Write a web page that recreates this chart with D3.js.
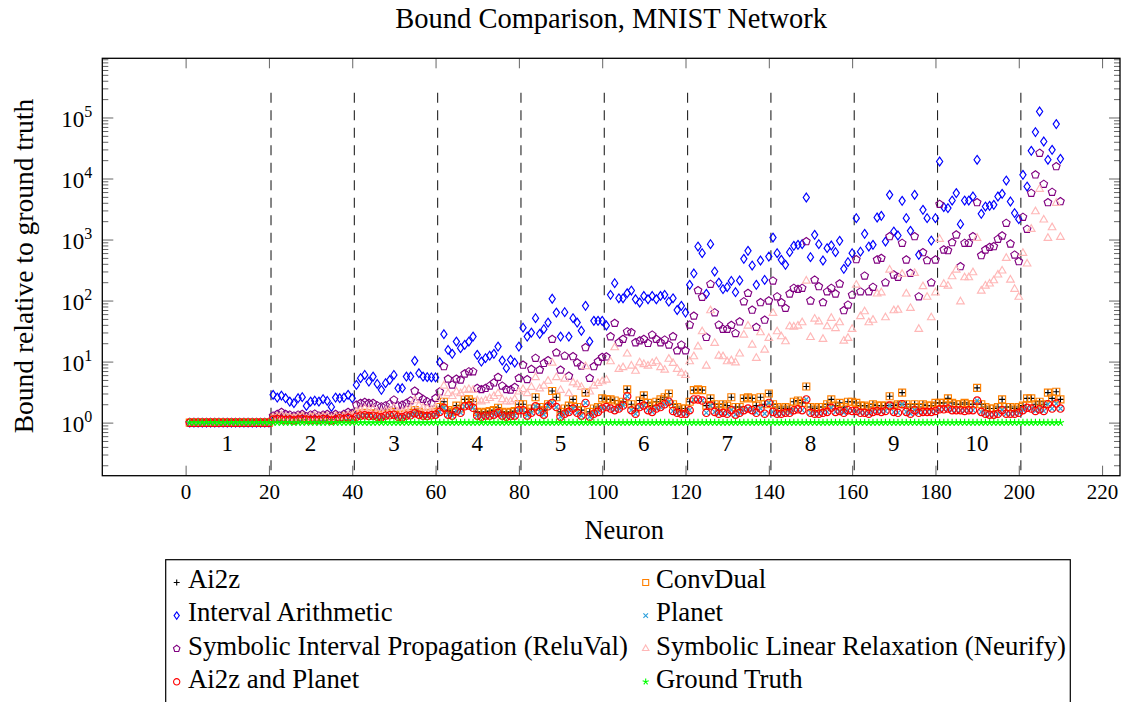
<!DOCTYPE html>
<html>
<head>
<meta charset="utf-8">
<script src="https://d3js.org/d3.v7.min.js"></script>
<style>
body { margin: 0; background: #fff; }
svg text { font-family: "Liberation Serif", "Times New Roman", serif; fill: #000; }
</style>
</head>
<body>
<svg id="chart" width="1138" height="702"></svg>
<script>
// neurons 1..210, ten hidden layers of 20 + 10 outputs
const neurons = d3.range(1, 211);
const layerEdges = [20.5, 40.5, 60.5, 80.5, 100.5, 120.5, 140.5, 160.5, 180.5, 200.5];
const layerLabels = ['1', '2', '3', '4', '5', '6', '7', '8', '9', '10'];
const layerCenters = [10, 30, 50, 70, 90, 110, 130, 150, 170, 190];
const xTicks = [0, 20, 40, 60, 80, 100, 120, 140, 160, 180, 200, 220];
const yTicks = [1, 10, 100, 1e3, 1e4, 1e5];

// bound / ground truth, one row per layer
const interval = [
  1,1,1,1,1,1,1,1,1,1,1,1,1,1,1,1,1,1,1,1,
  2.85,2.57,2.77,2.51,2.21,2.08,2.51,2.61,1.88,2.21,2.29,2.21,2.42,2.27,1.81,2.57,2.51,2.57,2.85,2.51,
  4.15,5.35,6.05,4.7,5.68,4.31,3.44,4.43,5.0,6.05,3.66,3.66,5.68,5.68,10.3,6.45,5.68,5.55,5.5,5.5,
  9.8,28.1,15.5,13.4,21.3,16.6,18.8,21.3,25.7,12.9,10.0,11.4,12.5,13.4,17.6,10.4,7.8,10.7,9.6,17.6,
  36,25.7,29.9,51.5,28.5,34,43.6,107,63.5,25.7,64.5,25.7,51.5,43.6,32,82,21.3,46.5,46.5,46.5,
  39,124,193,109,109,132,146,105,93,119,105,119,105,119,124,96,109,70,82,63.5,
  181,278,768,598,129,841,299,197,154,166,210,137,213,483,653,375,181,453,218,526,
  1078,598,465,385,621,788,819,841,4887,514,1195,841,453,722,798,621,952,331,426,598,
  2240,633,1240,768,819,2296,2448,927,5408,1352,1164,4305,2240,1390,5408,561,3069,2240,963,2240,
  19000,3396,3273,4355,5768,1787,4355,4355,5070,20270,2638,3475,3566,3706,5070,5611,9268,4198,2710,2160,
  11500,7390,28400,57600,125400,40400,20270,29500,78000,21000
];
const reluval = [
  1,1,1,1,1,1,1,1,1,1,1,1,1,1,1,1,1,1,1,1,
  1.29,1.37,1.48,1.37,1.34,1.29,1.34,1.37,1.25,1.34,1.39,1.29,1.34,1.37,1.29,1.37,1.29,1.37,1.48,1.42,
  1.95,2.08,2.16,2.08,2.08,1.9,1.83,1.9,2.03,2.36,1.9,1.95,2.08,2.29,3.3,2.67,2.42,2.21,2.08,2.51,
  3.2,8.3,5.2,4.15,5.2,5.0,6.3,6.85,6.85,3.66,3.5,3.66,4.0,4.5,5.55,4.0,3.5,3.44,3.8,5.35,
  8.8,5.1,7.5,11.4,7.3,9.4,10.4,23.3,14,7.3,12.4,5.8,12.1,9.6,8.5,17,5.35,8.3,10,11.8,
  12,25.7,42.6,20.5,23.3,31,29.9,20.5,22,23.3,20,27.4,23.3,20.5,22.7,18.8,25.7,15.1,18.8,15.1,
  40,56,146,114,25,186,63.5,40,34,34,39.5,29,45,96,132,70,36.6,93,48,99,
  210,116,93,75,129,160,154,160,927,99,218,170,93,140,160,129,188,68.6,85,124,
  470,140,254,140,166,465,495,197,1119,264,242,873,465,281,1119,116,612,453,197,465,
  3800,678,661,893,1195,361,873,873,1119,4045,547,678,750,768,1016,1150,1858,851,561,436,
  2330,1480,5768,11500,26100,8090,4045,5980,15700,4198
];
const neurify = [
  1,1,1,1,1,1,1,1,1,1,1,1,1,1,1,1,1,1,1,1,
  1.2,1.25,1.3,1.25,1.22,1.2,1.25,1.27,1.18,1.25,1.27,1.22,1.25,1.27,1.18,1.27,1.22,1.27,1.32,1.28,
  1.5,1.6,1.7,1.6,1.65,1.5,1.45,1.55,1.6,1.75,1.5,1.5,1.6,1.7,2.3,1.9,1.75,1.7,1.6,1.8,
  2.5,4.0,3.0,2.7,3.2,3.0,3.4,3.5,3.4,2.3,2.2,2.3,2.5,2.7,3.0,2.4,2.2,2.2,2.4,3.2,
  3.5,3.0,3.8,5.5,3.6,4.0,4.8,9.5,5.5,3.4,5.2,3.0,4.5,4.2,3.8,8.3,3.2,4.0,4.4,4.7,
  5.0,10,17,7.5,8.0,13.4,8.5,7.0,9.6,9.0,8.5,9.4,10,8.0,7.3,11,9.4,7.5,6.5,6.0,
  10,12.1,17.6,31,8.5,68.6,20,12.4,12.1,10,10.4,9.6,13.4,27.4,38.5,18.8,11.4,29.9,15.5,24.2,
  62,31,25.7,21.3,37.5,37,38.5,43.6,210,25,50,45,23.3,37.5,51.5,35,43.6,21.8,24.2,34,
  180,55,66,43.6,48,129,135,52.6,318,68.6,70,271,129,75,281,34,170,114,52.6,135,
  1016,186,174,247,318,96,238,238,288,1054,144,174,188,213,264,307,495,218,154,114,
  598,400,1480,2878,6700,2104,1054,1574,3950,1094
];
const ai2z = [
  1,1,1,1,1,1,1,1,1,1,1,1,1,1,1,1,1,1,1,1,
  1.2,1.25,1.22,1.18,1.2,1.15,1.22,1.25,1.2,1.18,1.22,1.2,1.25,1.2,1.15,1.22,1.28,1.25,1.3,1.22,
  1.35,1.4,1.45,1.38,1.42,1.35,1.3,1.4,1.45,1.5,1.35,1.32,1.4,1.45,1.6,1.5,1.42,1.4,1.45,1.5,
  1.8,2.2,1.6,1.5,1.9,1.7,2.4,2.4,2.2,1.5,1.45,1.5,1.55,1.6,1.75,1.5,1.45,1.5,1.55,2.0,
  2.0,1.5,1.7,2.6,1.8,1.6,2.0,3.3,2.6,1.5,1.7,1.9,2.4,1.8,1.6,3.1,1.5,1.7,1.8,2.5,
  2.4,2.4,2.3,2.0,2.2,3.5,2.0,1.7,2.3,2.8,2.1,1.9,2.2,2.4,2.6,3.0,2.0,1.8,1.7,1.7,
  2.2,3.4,3.5,3.4,1.9,2.5,2.0,1.8,2.0,1.9,2.6,1.8,1.8,2.5,2.6,2.5,1.9,2.6,2.0,3.0,
  2.0,1.8,1.7,1.8,1.7,2.2,2.3,2.1,3.9,1.8,1.7,1.8,1.8,2.0,2.4,1.9,2.1,1.8,2.2,2.2,
  2.1,1.9,1.9,1.8,2.0,1.9,1.9,1.9,2.7,1.9,2.0,3.1,2.0,1.8,2.0,1.8,2.0,1.9,1.9,2.1,
  2.1,2.1,2.5,2.1,2.0,2.0,2.1,2.0,2.0,3.7,2.0,1.8,1.7,1.7,1.8,2.4,1.8,1.8,1.7,1.8,
  1.9,2.5,2.5,2.0,2.2,2.0,3.1,2.5,3.2,2.4
];
const planet = [
  1,1,1,1,1,1,1,1,1,1,1,1,1,1,1,1,1,1,1,1,
  1.12,1.15,1.12,1.1,1.12,1.08,1.12,1.15,1.12,1.1,1.12,1.1,1.15,1.12,1.08,1.12,1.18,1.15,1.2,1.12,
  1.25,1.3,1.32,1.28,1.3,1.25,1.22,1.3,1.32,1.35,1.25,1.22,1.3,1.32,1.42,1.35,1.3,1.28,1.32,1.35,
  1.5,1.75,1.35,1.3,1.55,1.45,1.85,1.9,1.75,1.3,1.25,1.3,1.3,1.35,1.45,1.3,1.25,1.28,1.3,1.6,
  1.6,1.3,1.45,1.85,1.5,1.35,1.85,2.1,1.8,1.25,1.4,1.5,1.7,1.45,1.3,2.1,1.25,1.4,1.5,1.7,
  1.8,1.7,1.6,1.7,1.9,2.7,1.6,1.4,1.8,1.9,1.6,1.5,1.7,1.8,2.0,2.2,1.55,1.45,1.4,1.4,
  1.6,2.4,2.4,2.3,1.45,1.9,1.5,1.4,1.45,1.4,1.6,1.35,1.45,1.6,1.7,1.6,1.45,1.7,1.4,2.1,
  1.5,1.4,1.4,1.45,1.45,1.6,1.65,1.6,2.4,1.45,1.4,1.4,1.45,1.5,1.75,1.5,1.55,1.45,1.6,1.55,
  1.55,1.45,1.45,1.4,1.5,1.55,1.5,1.55,1.9,1.5,1.45,2.0,1.5,1.4,1.6,1.45,1.5,1.5,1.5,1.55,
  1.65,1.65,1.7,1.6,1.6,1.6,1.55,1.6,1.6,2.3,1.5,1.4,1.35,1.35,1.4,1.6,1.4,1.4,1.4,1.45,
  1.6,1.75,1.7,1.55,1.65,1.55,2.0,1.7,2.05,1.7
];
const convDual = ai2z.slice();     // coincides with Ai2z on every neuron
const ai2zPlanet = planet.slice(); // coincides with Planet on every neuron
const groundTruth = [
  1,1,1,1,1,1,1,1,1,1,1,1,1,1,1,1,1,1,1,1,
  1,1,1,1,1,1,1,1,1,1,1,1,1,1,1,1,1,1,1,1,
  1,1,1,1,1,1,1,1,1,1,1,1,1,1,1,1,1,1,1,1,
  1,1,1,1,1,1,1,1,1,1,1,1,1,1,1,1,1,1,1,1,
  1,1,1,1,1,1,1,1,1,1,1,1,1,1,1,1,1,1,1,1,
  1,1,1,1,1,1,1,1,1,1,1,1,1,1,1,1,1,1,1,1,
  1,1,1,1,1,1,1,1,1,1,1,1,1,1,1,1,1,1,1,1,
  1,1,1,1,1,1,1,1,1,1,1,1,1,1,1,1,1,1,1,1,
  1,1,1,1,1,1,1,1,1,1,1,1,1,1,1,1,1,1,1,1,
  1,1,1,1,1,1,1,1,1,1,1,1,1,1,1,1,1,1,1,1,
  1,1,1,1,1,1,1,1,1,1
];

const polygon = (n, r) => d3.range(n).map(i => {
  let a = -Math.PI / 2 + i * 2 * Math.PI / n;
  return (i ? 'L' : 'M') + (r * Math.cos(a)).toFixed(2) + ',' + (r * Math.sin(a)).toFixed(2);
}).join('') + 'Z';
const spokes = (n, r) => d3.range(n).map(i => {
  let a = -Math.PI / 2 + i * 2 * Math.PI / n;
  return 'M0,0L' + (r * Math.cos(a)).toFixed(2) + ',' + (r * Math.sin(a)).toFixed(2);
}).join('');

const markPath = {
  plus: 'M-3.5,0H3.5M0,-3.5V3.5',
  square: 'M-3.5,-3.5H3.5V3.5H-3.5Z',
  diamond: 'M0,-4.4L3.1,0L0,4.4L-3.1,0Z',
  times: 'M-2.7,-2.7L2.7,2.7M-2.7,2.7L2.7,-2.7',
  pentagon: polygon(5, 4),
  triangle: polygon(3, 4.4),
  circle: 'M3.7,0A3.7,3.7 0 1,1 -3.7,0A3.7,3.7 0 1,1 3.7,0Z',
  star: spokes(5, 3.8)
};

const series = [
  {name: 'Ai2z', values: ai2z, mark: 'plus', color: '#000000'},
  {name: 'ConvDual', values: convDual, mark: 'square', color: '#ff8000'},
  {name: 'Interval Arithmetic', values: interval, mark: 'diamond', color: '#0000ff'},
  {name: 'Planet', values: planet, mark: 'times', color: '#2a9fdc'},
  {name: 'Symbolic Interval Propagation (ReluVal)', values: reluval, mark: 'pentagon', color: '#800080'},
  {name: 'Symbolic Linear Relaxation (Neurify)', values: neurify, mark: 'triangle', color: '#ffb8b8'},
  {name: 'Ai2z and Planet', values: ai2zPlanet, mark: 'circle', color: '#ff0000'},
  {name: 'Ground Truth', values: groundTruth, mark: 'star', color: '#00ff00'}
];

const svg = d3.select('#chart');
const box = {left: 102.3, right: 1120, top: 58.3, bottom: 475.7};
const x = d3.scaleLinear().domain([-20, 224.3]).range([box.left, box.right]);
const y = d3.scaleLog().domain([0.1349, 9.33e5]).range([box.bottom, box.top]);

svg.append('rect').attr('width', 1138).attr('height', 702).attr('fill', '#fff');

svg.append('defs').append('clipPath').attr('id', 'clip')
  .append('rect').attr('x', box.left).attr('y', box.top)
  .attr('width', box.right - box.left).attr('height', box.bottom - box.top);

// minor log ticks 2..9 x 10^k
let minor = [];
for (let k = -1; k <= 5; k++) for (let m = 2; m <= 9; m++) {
  let v = m * Math.pow(10, k);
  if (v > y.domain()[0] && v < y.domain()[1]) minor.push(v);
}

const tickStyle = g => {
  g.select('.domain').remove();
  g.selectAll('.tick line').attr('stroke', '#555').attr('stroke-width', 0.9);
};

svg.append('g').attr('transform', `translate(0,${box.bottom})`)
  .call(d3.axisBottom(x).tickValues(xTicks).tickSize(-10).tickSizeOuter(0).tickPadding(8))
  .call(tickStyle)
  .selectAll('text').attr('font-size', 21).attr('font-family', '"Liberation Serif", serif');
svg.append('g').attr('transform', `translate(0,${box.top})`)
  .call(d3.axisTop(x).tickValues(xTicks).tickSize(-10).tickSizeOuter(0).tickFormat(''))
  .call(tickStyle);

const yLeft = svg.append('g').attr('transform', `translate(${box.left},0)`)
  .call(d3.axisLeft(y).tickValues(yTicks).tickSize(-11).tickSizeOuter(0).tickPadding(10))
  .call(tickStyle);
yLeft.selectAll('.tick text').text(null)
  .attr('font-size', 23).attr('font-family', '"Liberation Serif", serif').attr('dy', '0.4em')
  .call(t => {
    t.append('tspan').text('10');
    t.append('tspan').attr('dy', -10).attr('font-size', 16).text(d => Math.round(Math.log10(d)));
  });
svg.append('g').attr('transform', `translate(${box.left},0)`)
  .call(d3.axisLeft(y).tickValues(minor).tickSize(-6).tickSizeOuter(0).tickFormat(''))
  .call(tickStyle);
svg.append('g').attr('transform', `translate(${box.right},0)`)
  .call(d3.axisRight(y).tickValues(yTicks).tickSize(-11).tickSizeOuter(0).tickFormat(''))
  .call(tickStyle);
svg.append('g').attr('transform', `translate(${box.right},0)`)
  .call(d3.axisRight(y).tickValues(minor).tickSize(-6).tickSizeOuter(0).tickFormat(''))
  .call(tickStyle);

const plot = svg.append('g').attr('clip-path', 'url(#clip)');

// layer separators
plot.selectAll('.sep').data(layerEdges).join('line')
  .attr('class', 'sep')
  .attr('x1', d => x(d)).attr('x2', d => x(d))
  .attr('y1', y(2.55e5)).attr('y2', box.bottom)
  .attr('stroke', '#222').attr('stroke-width', 1.1).attr('stroke-dasharray', '10,7.5');

svg.selectAll('.layer').data(layerLabels).join('text')
  .attr('class', 'layer')
  .attr('x', (d, i) => x(layerCenters[i])).attr('y', y(0.46) + 8)
  .attr('text-anchor', 'middle').attr('font-size', 23)
  .text(d => d);

series.forEach(s => {
  plot.append('g').selectAll('path').data(neurons).join('path')
    .attr('transform', (n, i) => `translate(${x(n)},${y(s.values[i])})`)
    .attr('d', markPath[s.mark])
    .attr('fill', 'none')
    .attr('stroke', s.color)
    .attr('stroke-width', 1.15);
});

// frame
svg.append('rect')
  .attr('x', box.left).attr('y', box.top)
  .attr('width', box.right - box.left).attr('height', box.bottom - box.top)
  .attr('fill', 'none').attr('stroke', '#000').attr('stroke-width', 1.3);

svg.append('text').attr('x', (box.left + box.right) / 2).attr('y', 28)
  .attr('text-anchor', 'middle').attr('font-size', 28.5)
  .text('Bound Comparison, MNIST Network');
svg.append('text').attr('x', (box.left + box.right) / 2 + 13).attr('y', 539)
  .attr('text-anchor', 'middle').attr('font-size', 26.5)
  .text('Neuron');
svg.append('text').attr('transform', 'translate(33,266) rotate(-90)')
  .attr('text-anchor', 'middle').attr('font-size', 27.5)
  .text('Bound relative to ground truth');

// legend, two columns filled row by row
const legend = svg.append('g');
legend.append('rect').attr('x', 165.7).attr('y', 559.7).attr('width', 904.6).attr('height', 200)
  .attr('fill', '#fff').attr('stroke', '#000').attr('stroke-width', 1.2);
const colMark = [176.7, 645.7], colText = [188, 656];
series.forEach((s, i) => {
  let col = i % 2, row = Math.floor(i / 2);
  let base = 588.3 + row * 33.1;
  legend.append('path')
    .attr('transform', `translate(${colMark[col]},${base - 5.8}) scale(0.85)`)
    .attr('d', markPath[s.mark]).attr('fill', 'none')
    .attr('stroke', s.color).attr('stroke-width', 1.3);
  legend.append('text').attr('x', colText[col]).attr('y', base)
    .attr('font-size', 26.8).text(s.name);
});
</script>
</body>
</html>
